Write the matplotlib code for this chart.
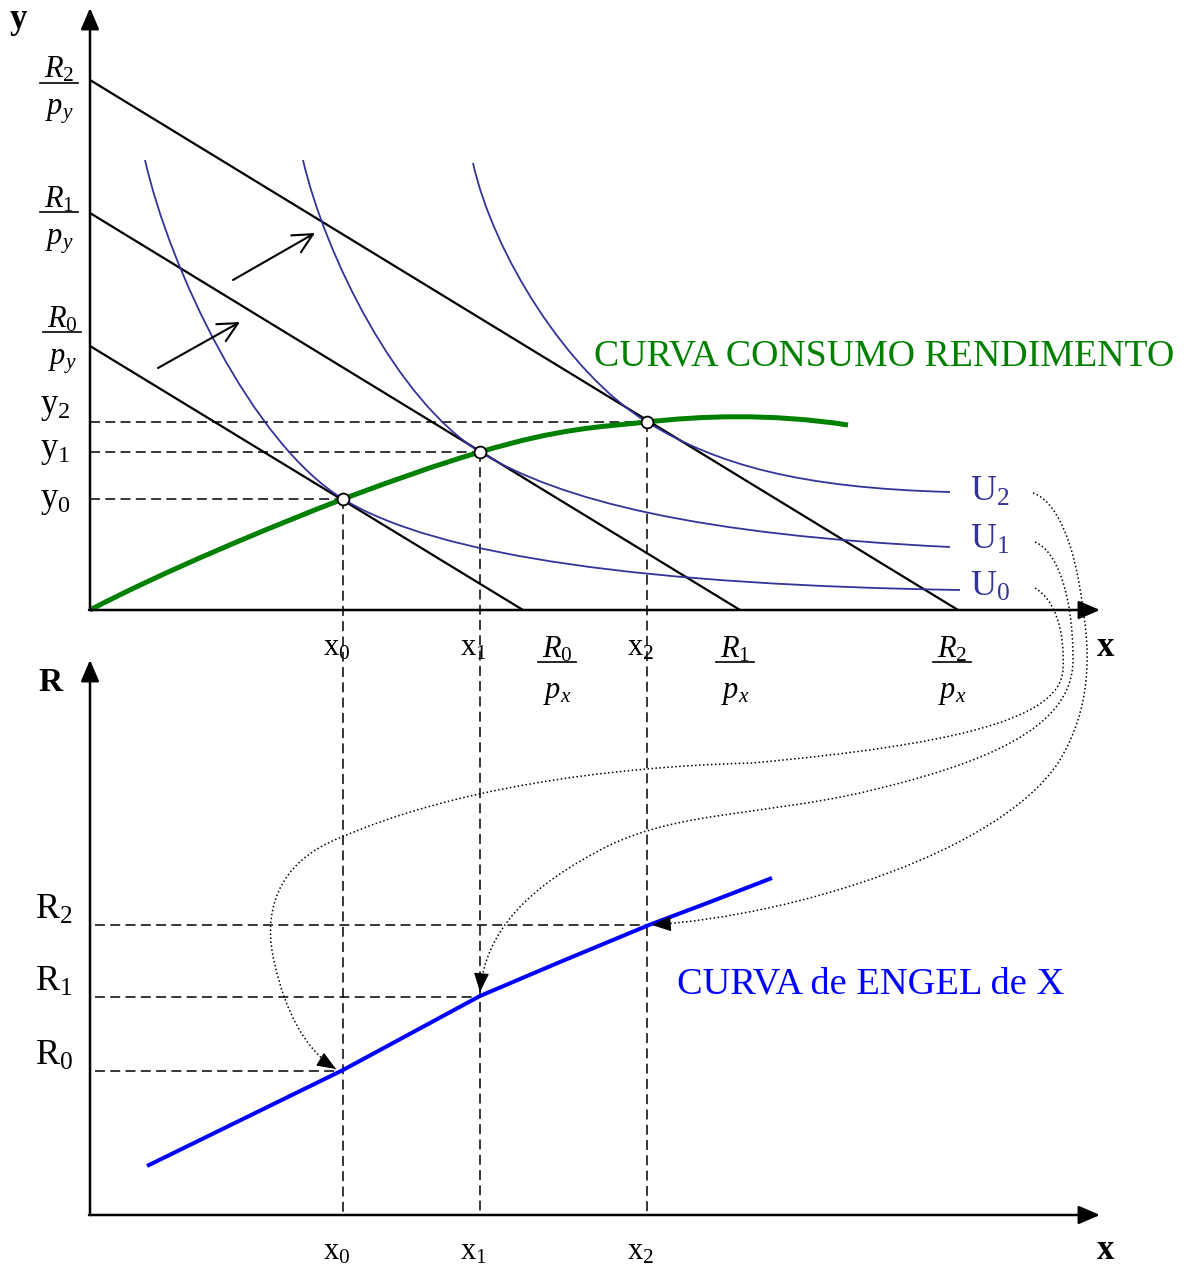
import matplotlib
matplotlib.use('Agg')
import matplotlib.pyplot as plt
from matplotlib.path import Path
from matplotlib.patches import PathPatch
import numpy as np

plt.rcParams['font.family'] = ['Liberation Serif', 'DejaVu Serif']
plt.rcParams['mathtext.fontset'] = 'custom'
plt.rcParams['mathtext.rm'] = 'Liberation Serif'
plt.rcParams['mathtext.it'] = 'Liberation Serif:italic'
plt.rcParams['mathtext.bf'] = 'Liberation Serif:bold'

# ---------------- data (drawing coordinates, y grows downward) ----------------
origin_top = (90, 610)
origin_bot = (90, 1215)
axis_end_x = 1100
axis_top_tip = 8
axis_bot_tip = 660

budget_y_int = [346, 213, 80]      # R_i / p_y
budget_x_int = [523, 740, 958]     # R_i / p_x
eq_x = [343, 480, 647]             # x0, x1, x2
eq_y = [499, 452, 422]             # y0, y1, y2
engel_R = [1071, 997, 925]         # R0, R1, R2

# indifference curves (cubic Bezier control points)
U0_ctrl = [(145, 160), (170, 270), (252, 443), (343, 499), (438, 557), (650, 585), (960, 590)]
U1_ctrl = [(303, 160), (325, 255), (397, 401), (480, 452), (560, 501), (700, 535), (950, 547)]
U2_ctrl = [(473, 163), (493, 253), (567, 373), (647, 422), (717, 465), (800, 488), (950, 492)]
U_labels = ['U_{0}', 'U_{1}', 'U_{2}']
U_label_y = [587, 540, 492]

# income-consumption curve (Bezier control points)
ccr_ctrl = [(90, 610), (160, 573), (270, 527), (343, 499), (400, 478), (430, 467), (480, 452),
            (560, 428), (600, 427), (647, 422), (700, 416), (770, 413), (848, 425)]

# Engel curve
engel_x = [147, 245, 343, 430, 480, 560, 649, 710, 772]
engel_y = [1166, 1118, 1070, 1023, 996, 962, 925, 902, 878]

# dotted connectors U_i -> Engel points (Bezier control points)
conn0_ctrl = [(1035, 588), (1055, 600), (1065, 630), (1063, 670),
              (1060, 720), (950, 745), (752, 763),
              (600, 767), (450, 790), (342, 837),
              (275, 862), (262, 915), (275, 965),
              (285, 1010), (305, 1050), (336, 1069)]
conn1_ctrl = [(1035, 542), (1055, 550), (1073, 590), (1073, 660),
              (1073, 730), (980, 765), (860, 793),
              (760, 815), (680, 812), (610, 845),
              (530, 885), (485, 930), (480, 992)]
conn2_ctrl = [(1033, 493), (1055, 500), (1075, 540), (1083, 610),
              (1093, 670), (1085, 720), (1058, 763),
              (1000, 850), (800, 915), (652, 925)]

# shift arrows between budget lines
shift_start = [(158, 368), (233, 280)]
shift_end = [(240, 322), (315, 233)]

# label text and anchor positions
frac_num = ['R_{0}', 'R_{1}', 'R_{2}']
frac_den_y = 'p_{y}'
frac_den_x = 'p_{x}'
frac_y_bar = [332, 212, 83]
frac_y_cx = [62, 59, 59]
frac_x_cx = [557, 735, 952]
frac_x_bar = 662
y_tick_labels = ['y_{0}', 'y_{1}', 'y_{2}']
y_label_base = [507, 457, 413]
x_tick_labels = ['x_{0}', 'x_{1}', 'x_{2}']
R_tick_labels = ['R_{0}', 'R_{1}', 'R_{2}']

# colours
C_IND = '#333399'
C_CCR = '#008000'
C_ENG = '#0000ff'

# ---------------- figure ----------------
fig = plt.figure(figsize=(11.86, 12.68), dpi=100)
ax = fig.add_axes([0, 0, 1, 1])
ax.set_xlim(0, 1186)
ax.set_ylim(1268, 0)
ax.axis('off')


def bezier(ctrl, **kw):
    codes = [Path.MOVETO] + [Path.CURVE4] * (len(ctrl) - 1)
    ax.add_patch(PathPatch(Path(ctrl, codes), fill=False, **kw))


def axis_arrow(start, end):
    ax.annotate('', xy=end, xytext=start,
                arrowprops=dict(arrowstyle='-|>,head_length=0.65,head_width=0.28',
                                lw=1.8, color='k', shrinkA=0, shrinkB=0,
                                mutation_scale=20), zorder=5)


# axes
ox, oy = origin_top
axis_arrow((ox, oy), (ox, axis_top_tip))
axis_arrow((ox - 1, oy), (axis_end_x, oy))
bx, by = origin_bot
axis_arrow((bx, by), (bx, axis_bot_tip))
axis_arrow((bx - 1, by), (axis_end_x, by))

# budget lines
for yi, xi in zip(budget_y_int, budget_x_int):
    ax.plot([ox, xi], [yi, oy], color='k', lw=1.6, solid_capstyle='butt', zorder=3)

# indifference curves
for ctrl in (U0_ctrl, U1_ctrl, U2_ctrl):
    bezier(ctrl, edgecolor=C_IND, lw=1.3, zorder=3)
for lab, ly in zip(U_labels, U_label_y):
    ax.text(970, ly, r'$\mathrm{%s}$' % lab, color=C_IND, fontsize=26, ha='left', va='center')

# shift arrows
for s, e in zip(shift_start, shift_end):
    ax.annotate('', xy=e, xytext=s,
                arrowprops=dict(arrowstyle='->,head_length=0.7,head_width=0.35', lw=1.5,
                                color='k', shrinkA=0, shrinkB=0, mutation_scale=20))

# dashed guide lines
dash_kw = dict(color='k', lw=1.1, dashes=(6.5, 3.5), zorder=2)
for x, y, r in zip(eq_x, eq_y, engel_R):
    ax.plot([ox, x], [y, y], **dash_kw)
    ax.plot([x, x], [y, by], **dash_kw)
    ax.plot([bx + 5, x], [r, r], **dash_kw)

# income-consumption curve
bezier(ccr_ctrl, edgecolor=C_CCR, lw=3.6, zorder=4, capstyle='butt')
ax.text(594, 366, 'CURVA CONSUMO RENDIMENTO', color=C_CCR, fontsize=27.3,
        ha='left', va='baseline')

# equilibrium points
ax.plot(eq_x, eq_y, 'o', ms=8.5, mfc='white', mec='k', mew=1.3, zorder=6)

# Engel curve
ax.plot(engel_x, engel_y, color=C_ENG, lw=2.9, zorder=4, solid_capstyle='butt')
ax.text(677, 994, 'CURVA de ENGEL de X', color=C_ENG, fontsize=27.6, ha='left', va='baseline')

# dotted connectors with arrowheads
for ctrl in (conn0_ctrl, conn1_ctrl, conn2_ctrl):
    bezier(ctrl, edgecolor='k', lw=1.1, ls=(0, (1, 1.6)), zorder=3)
    end = np.array(ctrl[-1], float)
    d = end - np.array(ctrl[-2], float)
    d /= np.hypot(*d)
    ax.annotate('', xy=tuple(end), xytext=tuple(end - 3 * d),
                arrowprops=dict(arrowstyle='-|>,head_length=0.75,head_width=0.3', lw=0.8,
                                color='k', shrinkA=0, shrinkB=0, mutation_scale=16), zorder=7)

# fractions on the y axis
for num, bar_y, cx in zip(frac_num, frac_y_bar, frac_y_cx):
    ax.plot([cx - 19, cx + 19], [bar_y, bar_y], color='k', lw=1.2)
    ax.text(cx, bar_y - 5, r'$%s$' % num, fontsize=22, ha='center', va='baseline')
    ax.text(cx, bar_y + 32, r'$%s$' % frac_den_y, fontsize=22, ha='center', va='baseline')

# fractions on the x axis
for num, cx in zip(frac_num, frac_x_cx):
    ax.plot([cx - 19, cx + 19], [frac_x_bar, frac_x_bar], color='k', lw=1.2)
    ax.text(cx, frac_x_bar - 5, r'$%s$' % num, fontsize=22, ha='center', va='baseline')
    ax.text(cx, frac_x_bar + 36, r'$%s$' % frac_den_x, fontsize=22, ha='center', va='baseline')

# tick-like labels
for lab, yb in zip(y_tick_labels, y_label_base):
    ax.text(40, yb, r'$\mathrm{%s}$' % lab, fontsize=25, ha='left', va='baseline')
for lab, x in zip(x_tick_labels, eq_x):
    ax.text(x - 20, 655, r'$\mathrm{%s}$' % lab, fontsize=22, ha='left', va='baseline')
    ax.text(x - 20, 1259, r'$\mathrm{%s}$' % lab, fontsize=22, ha='left', va='baseline')
for lab, r in zip(R_tick_labels, engel_R):
    ax.text(35, r - 6, r'$\mathrm{%s}$' % lab, fontsize=26, ha='left', va='baseline')

# axis names
ax.text(10, 28, 'y', fontsize=25, fontweight='bold', ha='left', va='baseline')
ax.text(1097, 656, 'x', fontsize=25, fontweight='bold', ha='left', va='baseline')
ax.text(1097, 1259, 'x', fontsize=25, fontweight='bold', ha='left', va='baseline')
ax.text(38, 691, 'R', fontsize=24, fontweight='bold', ha='left', va='baseline')

fig.savefig('out.png', dpi=100, facecolor='white')
